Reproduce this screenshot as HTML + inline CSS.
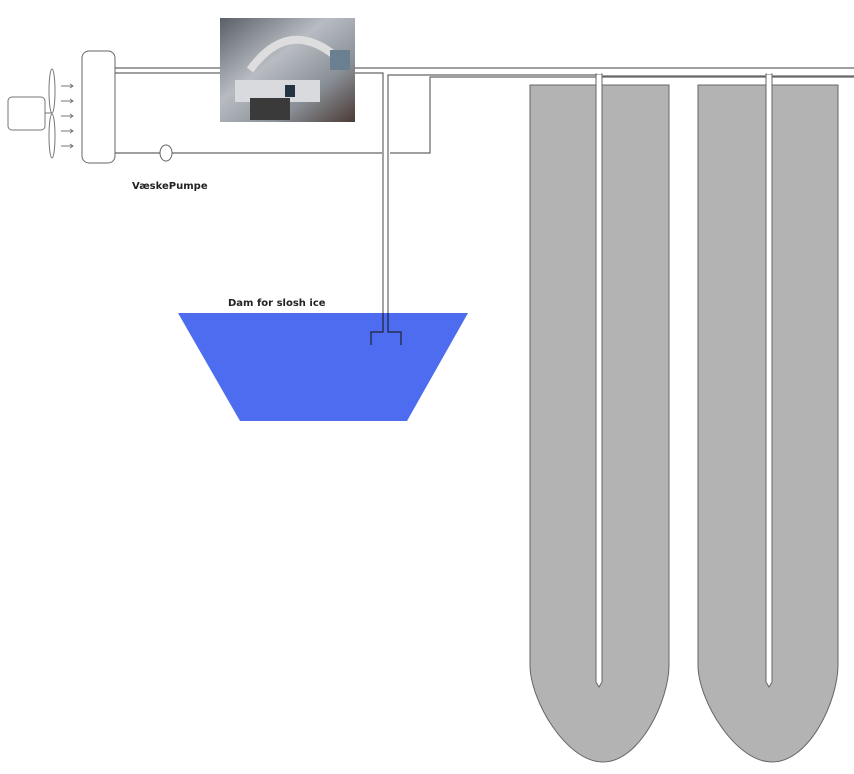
<!DOCTYPE html>
<html><head><style>
body{margin:0;background:#fff;}
svg{display:block}
text{font-family:"DejaVu Sans","Liberation Sans",sans-serif;font-weight:bold;font-size:10px;fill:#222}
</style></head><body>
<svg width="854" height="774" viewBox="0 0 854 774">
<defs>
<linearGradient id="img" x1="0" y1="0" x2="1" y2="1">
<stop offset="0" stop-color="#5a5f68"/><stop offset="0.4" stop-color="#b8bcc2"/><stop offset="0.7" stop-color="#8a9098"/><stop offset="1" stop-color="#4a3a34"/>
</linearGradient>
</defs>
<rect x="8" y="97" width="37" height="33" rx="4" fill="#fff" stroke="#777"/>
<line x1="45" y1="113" x2="52" y2="113" stroke="#777"/>
<ellipse cx="52" cy="91" rx="3" ry="22" fill="#fff" stroke="#777"/>
<ellipse cx="52" cy="136" rx="3" ry="22" fill="#fff" stroke="#777"/>
<g stroke="#777" fill="none">
<path d="M61 86h12m-3-2l3 2-3 2"/><path d="M61 101h12m-3-2l3 2-3 2"/><path d="M61 116h12m-3-2l3 2-3 2"/><path d="M61 131h12m-3-2l3 2-3 2"/><path d="M61 146h12m-3-2l3 2-3 2"/>
</g>
<rect x="82" y="51" width="33" height="112" rx="7" fill="#fff" stroke="#666"/>
<g stroke="#666" stroke-width="1.2" fill="none">
<path d="M115 68H220M115 73H220"/>
<path d="M355 68H854M355 73H383V340M388 340V75H596V76M602 76H766M772 76H854"/>
<path d="M115 153H160M172 153H382M390 153H430V77H854"/>
</g>
<ellipse cx="166" cy="153" rx="6" ry="8" fill="#fff" stroke="#666"/>
<text x="132" y="189">VæskePumpe</text>
<rect x="220" y="18" width="135" height="104" fill="url(#img)"/>
<path d="M250 70 Q290 15 340 60" stroke="#ddd" stroke-width="8" fill="none"/>
<rect x="235" y="80" width="85" height="22" fill="#d8dade"/>
<rect x="250" y="98" width="40" height="22" fill="#3a3a3a"/>
<rect x="285" y="85" width="10" height="12" fill="#234"/>
<rect x="330" y="50" width="20" height="20" fill="#6a8090"/>
<text x="228" y="306">Dam for slosh ice</text>
<polygon points="178,313 468,313 407,421 240,421" fill="#4d6cf0"/>
<g stroke="#223" stroke-width="1.2" fill="none">
<path d="M383 313V332H371V345M388 313V332H401V345"/>
</g>
<g fill="#b3b3b3" stroke="#666" stroke-width="1">
<path d="M530 85H669V665C669 700 640 762 603 762C566 762 530 700 530 665Z"/>
<path d="M698 85H838V665C838 700 810 762 772 762C735 762 698 700 698 665Z"/>
</g>
<g stroke="#666" fill="#fff" stroke-width="1">
<path d="M596 74V682L599 687L602 682V74Z"/>
<path d="M766 74V682L769 687L772 682V74Z"/>
</g>
<path d="M597 73H601M767 73H771" stroke="#fff" stroke-width="2"/>
</svg>
</body></html>
